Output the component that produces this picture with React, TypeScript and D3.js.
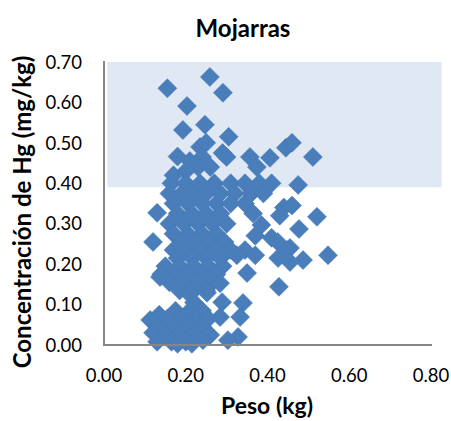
import React from "react";
import * as d3 from "d3";

// Data: weight (kg) and Hg concentration (mg/kg)
const weights: number[] = [
  // upper region (inside shaded band)
  0.155, 0.259, 0.291, 0.203, 0.193, 0.247, 0.305, 0.445, 0.46, 0.511,
  0.406, 0.357, 0.374, 0.30, 0.475, 0.18, 0.235, 0.25, 0.29, 0.24,
  0.21, 0.23, 0.17, 0.26, 0.20,
  // row 0.40
  0.165, 0.20, 0.235, 0.27, 0.31, 0.345, 0.38, 0.41,
  // row 0.375
  0.16, 0.19, 0.22, 0.25, 0.285, 0.32, 0.36, 0.39,
  // row 0.35
  0.17, 0.205, 0.24, 0.275, 0.31, 0.345,
  // row 0.34
  0.44, 0.46,
  // row 0.325
  0.13, 0.18, 0.215, 0.25, 0.285, 0.365,
  // row 0.318
  0.43, 0.521,
  // row 0.30
  0.16, 0.195, 0.23, 0.265, 0.30, 0.385,
  // 0.29
  0.477,
  // row 0.275
  0.17, 0.205, 0.24, 0.275, 0.37, 0.41,
  // row 0.255
  0.12, 0.19, 0.225, 0.26, 0.295, 0.425,
  // row 0.235
  0.17, 0.205, 0.24, 0.275, 0.31, 0.345, 0.455,
  // row 0.215
  0.18, 0.215, 0.25, 0.285, 0.325, 0.37, 0.426, 0.448, 0.487, 0.548,
  // 0.205
  0.455,
  // row 0.195
  0.15, 0.185, 0.22, 0.255, 0.29,
  // 0.178
  0.35,
  // row 0.175
  0.14, 0.17, 0.205, 0.24, 0.275,
  // 0.165
  0.137,
  // row 0.155
  0.16, 0.195, 0.23, 0.265, 0.284,
  // 0.144
  0.428,
  // row 0.135
  0.185, 0.215, 0.25,
  // row 0.125
  0.21, 0.252,
  // row 0.105
  0.22, 0.289, 0.34,
  // row 0.085
  0.135, 0.175, 0.21, 0.24,
  // 0.069
  0.284, 0.333,
  // row 0.065
  0.113, 0.155, 0.19, 0.225, 0.255,
  // row 0.045
  0.13, 0.17, 0.205, 0.24,
  // 0.03
  0.12,
  // row 0.025
  0.15, 0.185, 0.22, 0.26,
  // bottom
  0.328, 0.303, 0.242, 0.13, 0.165, 0.20, 0.18, 0.215,
];

const concentrations: number[] = [
  0.635, 0.663, 0.624, 0.591, 0.532, 0.545, 0.515, 0.488, 0.50, 0.465,
  0.463, 0.465, 0.44, 0.465, 0.396, 0.466, 0.49, 0.50, 0.475, 0.465,
  0.455, 0.44, 0.42, 0.44, 0.43,
  0.40, 0.40, 0.40, 0.40, 0.40, 0.40, 0.40, 0.40,
  0.375, 0.375, 0.375, 0.375, 0.375, 0.375, 0.375, 0.375,
  0.35, 0.35, 0.35, 0.35, 0.35, 0.35,
  0.34, 0.345,
  0.327, 0.325, 0.325, 0.325, 0.325, 0.325,
  0.32, 0.317,
  0.30, 0.30, 0.30, 0.30, 0.30, 0.297,
  0.287,
  0.275, 0.275, 0.275, 0.275, 0.27, 0.265,
  0.255, 0.255, 0.255, 0.255, 0.255, 0.255,
  0.235, 0.235, 0.235, 0.235, 0.235, 0.235, 0.24,
  0.215, 0.215, 0.215, 0.215, 0.222, 0.222, 0.215, 0.235, 0.21, 0.222,
  0.205,
  0.195, 0.195, 0.195, 0.195, 0.195,
  0.178,
  0.175, 0.175, 0.175, 0.175, 0.175,
  0.168,
  0.155, 0.155, 0.155, 0.155, 0.153,
  0.144,
  0.135, 0.135, 0.135,
  0.125, 0.129,
  0.105, 0.106, 0.104,
  0.075, 0.085, 0.085, 0.085,
  0.069, 0.069,
  0.062, 0.065, 0.065, 0.065, 0.065,
  0.045, 0.045, 0.045, 0.045,
  0.03,
  0.025, 0.025, 0.025, 0.025,
  0.02, 0.012, 0.012, 0.008, 0.008, 0.008, 0.003, 0.003,
];

const xTicks: number[] = [0, 0.2, 0.4, 0.6, 0.8];
const yTicks: number[] = [0, 0.1, 0.2, 0.3, 0.4, 0.5, 0.6, 0.7];

// Shaded reference band (Hg concentration range)
const bandLow = 0.39;
const bandHigh = 0.7;
const bandWeightStart = 0.008;
const bandWeightEnd = 0.826;

const TITLE = "Mojarras";
const X_TITLE = "Peso (kg)";
const Y_TITLE = "Concentración de Hg (mg/kg)";

export default function App() {
  const W = 451;
  const H = 421;
  const x = d3.scaleLinear().domain([0, 0.8]).range([104, 431]);
  const y = d3.scaleLinear().domain([0, 0.7]).range([345, 62]);
  const r = 9.5;
  const diamond = `M0,${-r}L${r},0L0,${r}L${-r},0Z`;
  const font = "Lato, 'Open Sans', sans-serif";
  const fmt = d3.format(".2f");
  const n = Math.min(weights.length, concentrations.length);
  const pts = d3.range(n).map((i) => [weights[i], concentrations[i]]);

  return (
    <svg
      width={W}
      height={H}
      style={{ position: "absolute", left: 0, top: 0, background: "#fff" }}
      fontFamily={font}
    >
      <rect width={W} height={H} fill="#fff" />
      <rect
        x={x(bandWeightStart)}
        y={y(bandHigh)}
        width={x(bandWeightEnd) - x(bandWeightStart)}
        height={y(bandLow) - y(bandHigh)}
        fill="#e0e8f4"
      />
      <g>
        {pts.map((p, i) => (
          <path
            key={i}
            d={diamond}
            transform={`translate(${x(p[0])},${y(p[1])})`}
            fill="#4a7ebb"
            stroke="#4276b5"
            strokeWidth={0.5}
          />
        ))}
      </g>
      <line x1={x(0)} x2={x(0)} y1={y(0.7) - 1} y2={y(0) + 1} stroke="#868686" strokeWidth={2} />
      <line x1={x(0) - 1} x2={x(0.8) + 1} y1={y(0)} y2={y(0)} stroke="#868686" strokeWidth={2} />
      {yTicks.map((t) => (
        <text key={"y" + t} x={82} y={y(t)} dy="0.36em" textAnchor="end" fontSize={18.5} fill="#000">
          {fmt(t)}
        </text>
      ))}
      {xTicks.map((t) => (
        <text key={"x" + t} x={x(t)} y={382} textAnchor="middle" fontSize={18.5} fill="#000">
          {fmt(t)}
        </text>
      ))}
      <text x={243} y={37} textAnchor="middle" fontSize={24} fontWeight="bold">
        {TITLE}
      </text>
      <text x={267} y={414} textAnchor="middle" fontSize={23} fontWeight="bold">
        {X_TITLE}
      </text>
      <text
        transform={`translate(31,${212}) rotate(-90)`}
        textAnchor="middle"
        fontSize={24}
        fontWeight="bold"
      >
        {Y_TITLE}
      </text>
    </svg>
  );
}
